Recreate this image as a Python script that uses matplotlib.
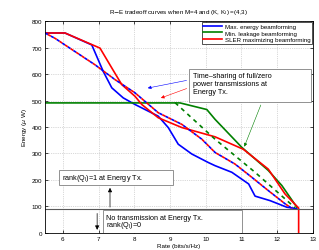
import matplotlib
matplotlib.use("Agg")
import matplotlib.pyplot as plt
from matplotlib.patches import Rectangle
import numpy as np

plt.rcParams['font.family'] = ['Liberation Sans', 'DejaVu Sans']

# max. energy beamforming (solid blue)
rate_me = [5.5, 6.06, 6.81, 7.13, 7.37, 7.69, 8.02, 8.11, 8.67, 8.95, 9.23, 9.61, 10.07, 10.26,
           10.73, 11.2, 11.38, 11.8, 12.27, 12.55]
energy_me = [755, 755, 710, 610, 548, 510, 485, 479, 441, 398, 335, 298, 266, 254,
             229, 185, 139, 122, 97, 92]

# SLER maximizing beamforming (solid red)
rate_sler = [5.5, 6.06, 7.04, 7.37, 7.65, 8.02, 8.21, 8.67, 9.33, 10.26, 11.05, 11.75, 12.22, 12.6, 12.6]
energy_sler = [755, 755, 698, 623, 560, 516, 485, 435, 398, 363, 316, 241, 147, 94, 0]

# min. leakage beamforming (solid green)
rate_ml = [5.5, 9.28, 10.03, 10.26, 11.01, 11.75, 12.13, 12.55]
energy_ml = [491, 491, 466, 429, 323, 236, 179, 97]

# time-sharing curves (dashed)
rate_ts = [5.5, 5.78, 6.34, 6.9, 7.46, 8.02, 8.67, 9.33, 9.89, 10.26, 10.82, 11.29, 11.75, 12.22, 12.41]
energy_ts = [755, 735, 685, 635, 579, 529, 454, 410, 354, 304, 260, 210, 160, 110, 93]
rate_ts_ml = [9.14, 10.26, 11.38, 12.5]
energy_ts_ml = [492, 354, 229, 95]

no_tx_level = 91

fig = plt.figure(figsize=(3.19, 2.51), dpi=100)
ax = fig.add_axes([0.141, 0.068, 0.84, 0.844])

ax.plot(rate_me, energy_me, color='blue', lw=1.2, label='Max. energy beamforming')
ax.plot(rate_ml, energy_ml, color='green', lw=1.2, label='Min. leakage beamforming')
ax.plot(rate_sler, energy_sler, color='red', lw=1.2, label='SLER maximizing beamforming')
ax.plot(rate_ts, energy_ts, color='blue', lw=1.2, ls=(0, (2, 2)))
ax.plot(rate_ts, energy_ts, color='red', lw=1.2, ls=(2, (2, 2)))
ax.plot(rate_ts_ml, energy_ts_ml, color='green', lw=1.2, ls=(0, (2.5, 2.5)))
ax.axhline(no_tx_level, color='0.35', lw=0.8)

ax.set_xlim(5.5, 13)
ax.set_ylim(0, 800)
ax.set_xticks(np.arange(6, 14))
ax.set_yticks(np.arange(0, 801, 100))
ax.tick_params(labelsize=4.5, length=2, width=0.5, direction='in', pad=2, top=True, right=True)
ax.grid(True, ls=':', color='0.7', lw=0.5)
for s in ax.spines.values():
    s.set_linewidth(0.6)

ax.set_title(r'R$-$E tradeoff curves when M=4 and (K, K$_\mathrm{I}$) =(4,3)', fontsize=4.5, pad=6)
ax.set_xlabel('Rate (bits/s/Hz)', fontsize=4.5, labelpad=2)
ax.set_ylabel(r'Energy ($\mu$ W)', fontsize=4.5, labelpad=2)

leg = ax.legend(loc='upper right', fontsize=4.4, handlelength=3.0, borderpad=0.3,
                labelspacing=0.25, fancybox=False, framealpha=1, borderaxespad=0.1,
                handletextpad=0.5)
leg.get_frame().set_edgecolor('0.2')
leg.get_frame().set_linewidth(0.6)

# text boxes (fixed size like the original)
for (x0, y0, w, h) in [(9.54, 493, 3.41, 127), (5.89, 181, 3.19, 56), (7.12, 1, 3.89, 86)]:
    ax.add_patch(Rectangle((x0, y0), w, h, fc='white', ec='0.5', lw=0.6, zorder=4))

ax.text(9.65, 607, 'Time\u2013sharing of full/zero\npower transmissions at\nEnergy Tx.',
        fontsize=5.2, va='top', ha='left', linespacing=1.2, zorder=5)
ax.annotate('', xy=(8.30, 545), xytext=(9.54, 578),
            arrowprops=dict(arrowstyle='-|>', color='blue', lw=0.4, mutation_scale=5))
ax.annotate('', xy=(8.67, 506), xytext=(9.54, 549),
            arrowprops=dict(arrowstyle='-|>', color='red', lw=0.4, mutation_scale=5))
ax.annotate('', xy=(11.05, 316), xytext=(11.57, 493),
            arrowprops=dict(arrowstyle='-|>', color='green', lw=0.4, mutation_scale=5))

ax.text(5.97, 211, r'rank(Q$_\mathrm{I}$)=1 at Energy Tx.', fontsize=5.2, va='center', ha='left',
        zorder=5)
ax.annotate('', xy=(7.32, 181), xytext=(7.32, 87),
            arrowprops=dict(arrowstyle='-|>', color='black', lw=0.5, mutation_scale=6))

ax.text(7.21, 60, 'No transmission at Energy Tx.', fontsize=5.2, va='center', ha='left', zorder=5)
ax.text(7.21, 31, r'rank(Q$_\mathrm{I}$)=0', fontsize=5.2, va='center', ha='left', zorder=5)
ax.annotate('', xy=(6.96, 1), xytext=(6.96, 84),
            arrowprops=dict(arrowstyle='-|>', color='black', lw=0.5, mutation_scale=6))

fig.savefig('out.png', dpi=100)
